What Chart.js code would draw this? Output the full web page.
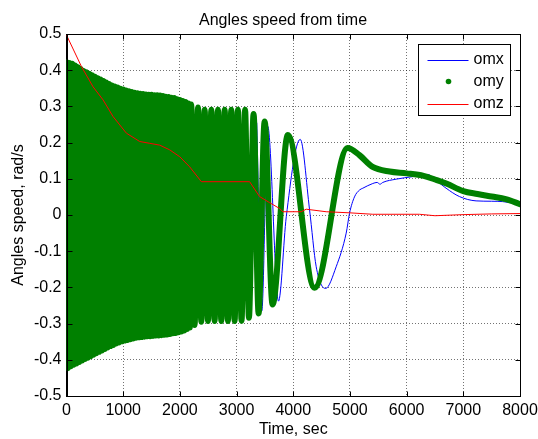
<!DOCTYPE html>
<html>
<head>
<meta charset="utf-8">
<title>Angles speed from time</title>
<script src="https://cdn.jsdelivr.net/npm/chart.js@4.4.0/dist/chart.umd.min.js"></script>
<style>
  html, body { margin: 0; padding: 0; background: #fff; }
  #wrap { width: 538px; height: 439px; }
</style>
</head>
<body>
<div id="wrap"><canvas id="chart" width="538" height="439"></canvas></div>
<script>
const chartTitle = 'Angles speed from time';

// axis ticks
const xTicks = [0, 1000, 2000, 3000, 4000, 5000, 6000, 7000, 8000];
const yTicks = [-0.5, -0.4, -0.3, -0.2, -0.1, 0, 0.1, 0.2, 0.3, 0.4, 0.5];

// omx (blue) - mostly hidden under omy before ~3300
const omxTime = [3356, 3445, 3550, 3740, 3877, 4123, 4288, 4405, 4570, 4757, 4934, 4993, 5080, 5169, 5227,
  5403, 5480, 5530, 5580, 5815, 6108, 6373, 6500, 6696, 6931, 7225, 7500, 7693, 8000];
const omxValue = [0.255, -0.265, 0.245, -0.238, -0.005, 0.209, 0.014, -0.143, -0.203, -0.143, -0.05, 0.005, 0.05, 0.069, 0.074,
  0.087, 0.09, 0.085, 0.09, 0.099, 0.106, 0.112, 0.098, 0.074, 0.051, 0.039, 0.038, 0.037, 0.030];

// omy (green) - peaks and troughs (the dense part is the envelope)
const omyTime = [
  0, 25, 50, 75, 100, 125, 150, 175, 200, 225, 250, 275, 300, 325, 350, 375, 400, 425, 450, 475,
  500, 525, 550, 575, 600, 625, 650, 675, 700, 725, 750, 775, 800, 825, 850, 875, 900, 925, 950, 975,
  1000, 1025, 1050, 1075, 1100, 1125, 1150, 1175, 1200, 1225, 1250, 1275, 1300, 1325, 1350, 1375, 1400, 1425, 1450, 1475,
  1500, 1525, 1550, 1575, 1600, 1625, 1650, 1675, 1700, 1725, 1750, 1775, 1800, 1825, 1850, 1875, 1900, 1925, 1950, 1975,
  2000, 2025, 2050, 2075, 2100, 2125, 2150, 2175, 2200,
  2260, 2320, 2378, 2437, 2496, 2555, 2613, 2672, 2731, 2790, 2848, 2907, 2966, 3024, 3088,
  3150, 3218, 3300, 3389, 3495, 3635, 3905, 4375, 4960, 5170, 5400, 5700, 6000, 6300, 6500, 6700, 7000, 7250, 7500, 7750, 8000];
const omyValue = [
  0.422, -0.423, 0.420, -0.418, 0.418, -0.414, 0.413, -0.410, 0.408, -0.406, 0.403, -0.402, 0.398, -0.398, 0.394, -0.394, 0.390, -0.390, 0.386, -0.386,
  0.382, -0.382, 0.378, -0.378, 0.374, -0.374, 0.370, -0.370, 0.366, -0.366, 0.362, -0.362, 0.358, -0.359, 0.355, -0.355, 0.352, -0.352, 0.349, -0.349,
  0.347, -0.347, 0.344, -0.345, 0.342, -0.343, 0.340, -0.341, 0.338, -0.339, 0.336, -0.338, 0.335, -0.337, 0.334, -0.336, 0.333, -0.335, 0.332, -0.335,
  0.332, -0.334, 0.331, -0.333, 0.331, -0.333, 0.330, -0.332, 0.329, -0.331, 0.327, -0.330, 0.326, -0.329, 0.324, -0.327, 0.323, -0.326, 0.320, -0.324,
  0.318, -0.322, 0.315, -0.319, 0.312, -0.315, 0.308, -0.311, 0.305,
  -0.304, 0.297, -0.295, 0.291, -0.293, 0.291, -0.293, 0.291, -0.293, 0.291, -0.293, 0.291, -0.293, 0.291, -0.292,
  0.291, -0.284, 0.279, -0.272, 0.258, -0.247, 0.221, -0.201, 0.185, 0.165, 0.133, 0.120, 0.115, 0.108, 0.098, 0.087, 0.066, 0.058, 0.051, 0.044, 0.030];

// omz (red)
const omzTime = [0, 264, 469, 645, 821, 1057, 1292, 1468, 1644, 1820, 1997, 2173, 2379, 3230, 3406, 3583, 3759, 3818,
  4140, 4229, 4581, 4993, 5403, 6225, 6500, 7000, 7500, 8000];
const omzValue = [0.497, 0.41, 0.354, 0.318, 0.272, 0.226, 0.203, 0.198, 0.193, 0.18, 0.161, 0.133, 0.092, 0.092, 0.051, 0.034, 0.018, 0.009,
  0.009, 0.016, 0.009, 0.006, 0.002, 0.002, -0.002, 0.001, 0.003, 0.004];

function toPoints(xs, ys) {
  return xs.map((x, i) => ({ x: x, y: ys[i] }));
}

const FONT = '"Liberation Sans", Arial, Helvetica, sans-serif';
Chart.defaults.font.family = FONT;
Chart.defaults.font.size = 16;
Chart.defaults.color = '#000';

// title, box, inward ticks and the legend inside the axes, like matlab does it
const matlabAxes = {
  id: 'matlabAxes',
  afterDraw(chart) {
    const ctx = chart.ctx;
    const a = chart.chartArea;
    const L = Math.round(a.left) + 0.5, R = Math.round(a.right) + 0.5;
    const T = Math.round(a.top) + 0.5, B = Math.round(a.bottom) + 0.5;
    const xs = chart.scales.x, ys = chart.scales.y;
    const tl = 5;

    ctx.save();
    ctx.fillStyle = '#000';
    ctx.font = '16px ' + FONT;
    ctx.textAlign = 'center';
    ctx.textBaseline = 'alphabetic';
    ctx.fillText(chartTitle, 283, 25);

    ctx.strokeStyle = '#000';
    ctx.lineWidth = 1;
    ctx.strokeRect(L, T, R - L, B - T);
    ctx.beginPath();
    xTicks.forEach(v => {
      const px = Math.round(xs.getPixelForValue(v)) + 0.5;
      ctx.moveTo(px, B); ctx.lineTo(px, B - tl);
      ctx.moveTo(px, T); ctx.lineTo(px, T + tl);
    });
    yTicks.forEach(v => {
      const py = Math.round(ys.getPixelForValue(v)) + 0.5;
      ctx.moveTo(L, py); ctx.lineTo(L + tl, py);
      ctx.moveTo(R, py); ctx.lineTo(R - tl, py);
    });
    ctx.stroke();

    // legend
    const bw = 92, bh = 71;
    const bx = Math.round(a.right) - 102 + 0.5, by = Math.round(a.top) + 10 + 0.5;
    ctx.fillStyle = '#fff';
    ctx.fillRect(bx, by, bw, bh);
    ctx.strokeRect(bx, by, bw, bh);
    ctx.textBaseline = 'middle';
    ctx.textAlign = 'left';
    chart.data.datasets.forEach((ds, i) => {
      const cy = by + 15 + i * 22;
      if (ds.legendDot) {
        ctx.fillStyle = ds.borderColor;
        ctx.beginPath();
        ctx.arc(bx + 30, cy, 2.8, 0, Math.PI * 2);
        ctx.fill();
      } else {
        ctx.strokeStyle = ds.borderColor;
        ctx.beginPath();
        ctx.moveTo(bx + 9, Math.round(cy) + 0.5);
        ctx.lineTo(bx + 50, Math.round(cy) + 0.5);
        ctx.stroke();
      }
      ctx.fillStyle = '#000';
      ctx.fillText(ds.label, bx + 55, cy);
    });
    ctx.restore();
  }
};

const ctx = document.getElementById('chart').getContext('2d');
new Chart(ctx, {
  type: 'line',
  data: {
    datasets: [
      {
        label: 'omx',
        data: toPoints(omxTime, omxValue),
        borderColor: '#0000ff',
        borderWidth: 1,
        pointRadius: 0,
        cubicInterpolationMode: 'monotone',
        order: 3
      },
      {
        label: 'omy',
        data: toPoints(omyTime, omyValue),
        borderColor: '#008000',
        borderWidth: 6,
        pointRadius: 0,
        borderJoinStyle: 'round',
        borderCapStyle: 'round',
        cubicInterpolationMode: 'monotone',
        legendDot: true,
        order: 2
      },
      {
        label: 'omz',
        data: toPoints(omzTime, omzValue),
        borderColor: '#ff0000',
        borderWidth: 1,
        pointRadius: 0,
        order: 1
      }
    ]
  },
  options: {
    responsive: false,
    animation: false,
    devicePixelRatio: 1,
    layout: { padding: { left: 0, right: 18, top: 34, bottom: 0 } },
    plugins: {
      legend: { display: false },
      tooltip: { enabled: false },
      title: { display: false }
    },
    scales: {
      x: {
        type: 'linear',
        min: 0,
        max: 8000,
        afterBuildTicks: s => { s.ticks = xTicks.map(v => ({ value: v })); },
        afterFit: s => { s.height = 43; s.paddingLeft = 0; s.paddingRight = 0; },
        ticks: { padding: 5, maxRotation: 0, autoSkip: false, color: '#000', callback: v => String(v) },
        grid: { color: 'rgba(0,0,0,0.55)', drawTicks: false, lineWidth: 1 },
        border: { display: true, color: '#000', width: 1, dash: [1, 2] },
        title: { display: true, text: 'Time, sec', color: '#000', padding: { top: 0, bottom: 0 } }
      },
      y: {
        type: 'linear',
        min: -0.5,
        max: 0.5,
        afterBuildTicks: s => { s.ticks = yTicks.map(v => ({ value: v })); },
        afterFit: s => { s.width = 66.5; s.paddingTop = 0; s.paddingBottom = 0; },
        ticks: { padding: 5, autoSkip: false, color: '#000', callback: v => String(v) },
        grid: { color: 'rgba(0,0,0,0.55)', drawTicks: false, lineWidth: 1 },
        border: { display: true, color: '#000', width: 1, dash: [1, 2] },
        title: { display: true, text: 'Angles speed, rad/s', color: '#000', padding: { top: 9, bottom: 0 } }
      }
    }
  },
  plugins: [matlabAxes]
});
</script>
</body>
</html>
